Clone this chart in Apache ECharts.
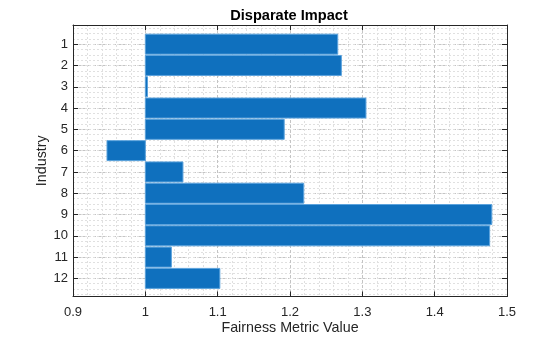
<!DOCTYPE html>
<html><head><meta charset="utf-8">
<script src="https://cdn.jsdelivr.net/npm/echarts@6/dist/echarts.min.js"></script>
<style>html,body{margin:0;padding:0;background:#fff}#c{width:560px;height:337px}</style>
</head><body><div id="c"></div>
<script>
const industries = [1, 2, 3, 4, 5, 6, 7, 8, 9, 10, 11, 12];
const fairnessValues = [1.266, 1.271, 1.003, 1.305, 1.192, 0.947, 1.052, 1.219, 1.479, 1.476, 1.036, 1.103];
const yTickLabels = industries;
const BASE = 1;
const BAR_WIDTH = 0.94;
const Y_MIN = 0.1, Y_MAX = 12.85;
const yMinorGrid = [];
for (let k = 1; k * 0.25 < Y_MAX; k++) yMinorGrid.push(k * 0.25);

const FONT = 'Liberation Sans, Arial, Helvetica, sans-serif';
const INK = '#262626';
const chart = echarts.init(document.getElementById('c'), null, {renderer: 'canvas'});

const data = industries.map((c, i) => [fairnessValues[i], c]);

chart.setOption({
  animation: false,
  backgroundColor: '#fff',
  title: {
    text: 'Disparate Impact', left: 284, textAlign: 'center', top: 3,
    textStyle: {fontFamily: FONT, fontSize: 14.6, fontWeight: 'bold', color: '#000'}
  },
  grid: {left: 73, right: 53, top: 25, bottom: 40.5, containLabel: false, outerBoundsMode: 'none'},
  xAxis: [{
    type: 'value', min: 0.9, max: 1.5, interval: 0.1, position: 'bottom',
    name: 'Fairness Metric Value', nameLocation: 'middle', nameGap: 25, nameMoveOverlap: false,
    nameTextStyle: {fontFamily: FONT, fontSize: 14.3, color: INK},
    axisLine: {show: true, lineStyle: {color: INK, width: 1}},
    axisTick: {show: true, inside: true, length: 5, lineStyle: {color: INK}},
    axisLabel: {fontFamily: FONT, fontSize: 13, color: INK, margin: 9},
    splitLine: {show: true, lineStyle: {color: '#c4c4c4', type: [3, 2], width: 1}},
    minorTick: {show: false, splitNumber: 5},
    minorSplitLine: {show: true, lineStyle: {color: '#e0e0e0', type: [2, 2], width: 1}}
  }, {
    type: 'value', min: 0.9, max: 1.5, interval: 0.1, position: 'top',
    axisLine: {show: true, lineStyle: {color: INK, width: 1}},
    axisTick: {show: true, inside: true, length: 5, lineStyle: {color: INK}},
    axisLabel: {show: false}, splitLine: {show: false}
  }],
  yAxis: [{
    type: 'value', min: Y_MIN, max: Y_MAX, inverse: true, position: 'left',
    name: 'Industry', nameLocation: 'middle', nameGap: 24, nameMoveOverlap: false,
    nameTextStyle: {fontFamily: FONT, fontSize: 14.3, color: INK},
    axisLine: {show: true, lineStyle: {color: INK, width: 1}},
    axisTick: {show: true, inside: true, length: 5, lineStyle: {color: INK}, customValues: yTickLabels},
    axisLabel: {fontFamily: FONT, fontSize: 13, color: INK, margin: 5, customValues: yTickLabels},
    splitLine: {show: true, lineStyle: {color: '#c4c4c4', type: [3, 2], width: 1}}
  }, {
    type: 'value', min: Y_MIN, max: Y_MAX, inverse: true, position: 'right',
    axisLine: {show: true, lineStyle: {color: INK, width: 1}},
    axisTick: {show: true, inside: true, length: 5, lineStyle: {color: INK}, customValues: yTickLabels},
    axisLabel: {show: false}, splitLine: {show: false}
  }, {
    type: 'value', min: Y_MIN, max: Y_MAX, inverse: true, position: 'left',
    axisLine: {show: false},
    axisTick: {show: false, customValues: yMinorGrid},
    axisLabel: {show: false},
    splitLine: {show: true, lineStyle: {color: '#e0e0e0', type: [2, 2], width: 1}}
  }],
  series: [{
    type: 'custom',
    xAxisIndex: 0, yAxisIndex: 0,
    encode: {x: 0, y: 1},
    data: data,
    z: 5,
    renderItem: function (params, api) {
      const v = api.value(0), c = api.value(1);
      const p0 = api.coord([BASE, c]);
      const p1 = api.coord([v, c]);
      const h = Math.abs(api.size([0, BAR_WIDTH])[1]);
      return {
        type: 'rect',
        shape: {x: Math.min(p0[0], p1[0]), y: p0[1] - h / 2, width: Math.abs(p1[0] - p0[0]), height: h},
        style: {fill: '#0F70BE', stroke: '#5CA3DD', lineWidth: 1}
      };
    }
  }]
});
</script></body></html>
